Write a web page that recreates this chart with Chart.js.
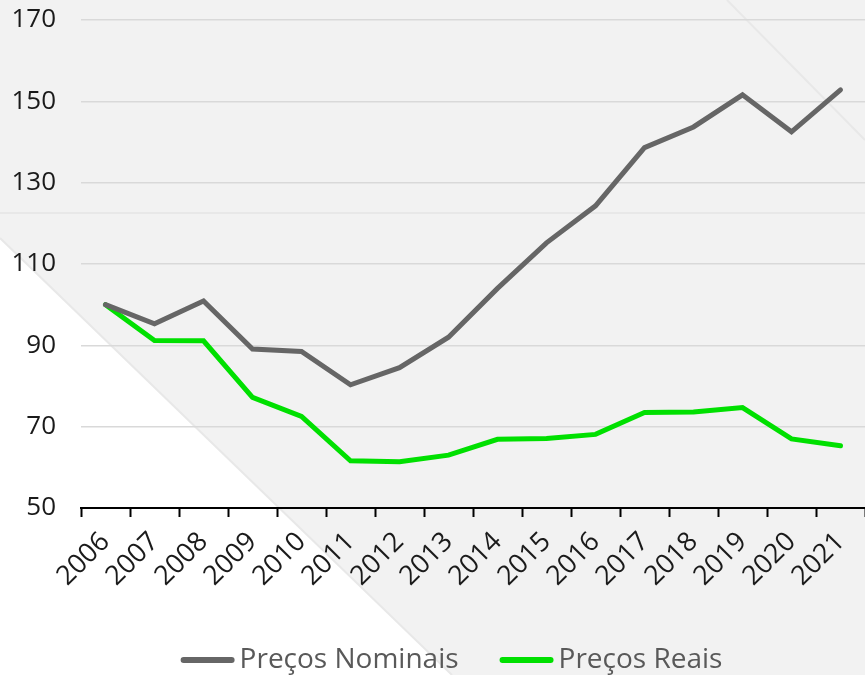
<!DOCTYPE html>
<html>
<head>
<meta charset="utf-8">
<script src="https://cdn.jsdelivr.net/npm/chart.js@4/dist/chart.umd.min.js"></script>
<style>
  html, body { margin: 0; padding: 0; background: #fff; }
  #wrap { width: 865px; height: 675px; }
</style>
</head>
<body>
<div id="wrap"><canvas id="myChart" width="865" height="675"></canvas></div>
<script>
const years = ['2006','2007','2008','2009','2010','2011','2012','2013','2014','2015','2016','2017','2018','2019','2020','2021']
const nominais = [100, 95.3, 100.9, 89.1, 88.5, 80.3, 84.5, 92.0, 104.0, 115.2, 124.3, 138.6, 143.7, 151.6, 142.5, 152.8]
const reais = [100, 91.2, 91.1, 77.2, 72.5, 61.6, 61.4, 63.0, 66.9, 67.1, 68.1, 73.5, 73.6, 74.7, 67.0, 65.3]
const yTicks = [50, 70, 90, 110, 130, 150, 170]

const FONT = "'Open Sans', sans-serif"

// grey page background with the white corner and faint lines
const backdrop = {
    id: 'backdrop',
    beforeDraw(chart) {
        const c = chart.ctx
        const w = chart.width, h = chart.height
        c.save()
        c.fillStyle = '#f2f2f2'
        c.fillRect(0, 0, w, h)
        c.fillStyle = '#ffffff'
        c.beginPath()
        c.moveTo(0, 238)
        c.lineTo(452, h)
        c.lineTo(0, h)
        c.closePath()
        c.fill()
        c.strokeStyle = '#e8e8e8'
        c.lineWidth = 2
        c.beginPath()
        c.moveTo(0, 238); c.lineTo(452, h)
        c.stroke()
        c.beginPath()
        c.moveTo(0, 213); c.lineTo(w, 213)
        c.stroke()
        c.beginPath()
        c.moveTo(727, 0); c.lineTo(w, 140)
        c.stroke()
        c.restore()
    }
}

// legend drawn by hand so the line sample sits close to its text
const bottomLegend = {
    id: 'bottomLegend',
    afterDraw(chart) {
        const c = chart.ctx
        const sets = chart.data.datasets
        const lineLen = 48, gapText = 8, gapItem = 44, y = 660
        c.save()
        c.font = '28px ' + FONT
        c.textBaseline = 'middle'
        let total = 0
        sets.forEach((ds, i) => {
            total += lineLen + gapText + c.measureText(ds.label).width
            if (i < sets.length - 1) total += gapItem
        })
        let x = 453 - total / 2
        sets.forEach(ds => {
            c.strokeStyle = ds.borderColor
            c.lineWidth = 6
            c.lineCap = 'round'
            c.beginPath()
            c.moveTo(x, y); c.lineTo(x + lineLen, y)
            c.stroke()
            x += lineLen + gapText
            c.fillStyle = '#595959'
            c.fillText(ds.label, x, y)
            x += c.measureText(ds.label).width + gapItem
        })
        c.restore()
    }
}

const ctx = document.getElementById('myChart').getContext('2d')
const chart = new Chart(ctx, {
    type: 'line',
    data: {
        labels: years,
        datasets: [{
            label: 'Preços Nominais',
            data: nominais,
            borderColor: '#666666',
            backgroundColor: '#666666',
            borderWidth: 5,
            borderCapStyle: 'round',
            pointRadius: 0,
            tension: 0
        }, {
            label: 'Preços Reais',
            data: reais,
            borderColor: '#00e000',
            backgroundColor: '#00e000',
            borderWidth: 5,
            borderCapStyle: 'round',
            pointRadius: 0,
            tension: 0
        }]
    },
    options: {
        responsive: false,
        animation: false,
        layout: { padding: { top: 20, left: 0, right: 0, bottom: 82 } },
        plugins: {
            tooltip: { enabled: false },
            legend: { display: false }
        },
        scales: {
            x: {
                offset: true,
                border: { display: true, color: '#000', width: 2 },
                grid: { display: true, offset: true, drawOnChartArea: false, drawTicks: true, tickLength: 9, tickColor: '#000', tickWidth: 2 },
                ticks: {
                    autoSkip: false, maxRotation: 45, minRotation: 45,
                    color: '#1a1a1a', padding: 9,
                    font: { family: FONT, size: 27 }
                },
                afterFit(scale) { scale.height = 85; scale.paddingLeft = 0; scale.paddingRight = 0 }
            },
            y: {
                min: 50, max: 170,
                border: { display: false },
                grid: { color: '#d9d9d9', lineWidth: 1.5, drawTicks: false },
                afterBuildTicks(scale) { scale.ticks = yTicks.map(v => ({ value: v })) },
                ticks: { color: '#1a1a1a', padding: 25, font: { family: FONT, size: 26 } },
                afterFit(scale) { scale.width = 81; scale.paddingTop = 0; scale.paddingBottom = 0 }
            }
        }
    },
    plugins: [backdrop, bottomLegend]
})
</script>
</body>
</html>
